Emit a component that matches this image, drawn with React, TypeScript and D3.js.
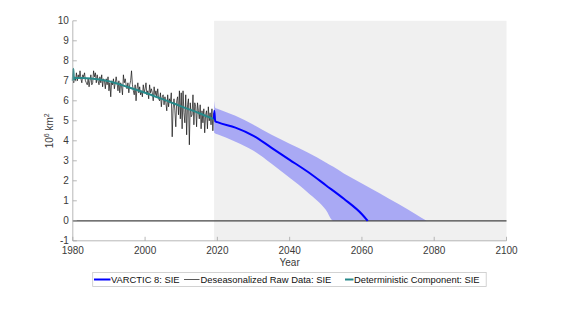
import React from 'react';
import * as d3 from 'd3';

// deseasonalized raw sea-ice extent, 4 samples/year from 1980
const rawStart = 1980;
const rawStep = 0.25;
const rawValues = [
  7.3, 6.9, 7.2, 7.0, 7.4, 7.0, 7.3, 7.1, 7.5, 7.1, 6.9, 7.3, 7.2, 7.4, 7.0, 6.9,
  6.8, 7.1, 6.7, 7.0, 7.3, 6.8, 6.9, 7.5, 7.2, 7.4, 6.9, 7.3, 7.0, 6.8, 7.2, 6.9,
  7.3, 6.7, 7.1, 7.0, 6.6, 7.1, 6.8, 7.2, 6.5, 6.9, 6.2, 7.0, 6.8, 7.1, 6.6, 6.9,
  7.2, 6.9, 6.5, 7.0, 6.4, 6.9, 6.7, 6.3, 7.3, 6.9, 7.1, 6.8, 6.6, 6.9, 6.4, 6.8,
  7.0, 7.5, 6.8, 6.5, 6.3, 6.8, 6.0, 6.6, 6.9, 6.4, 6.7, 6.3, 6.5, 6.2, 6.8, 6.4,
  6.6, 6.9, 6.3, 6.5, 6.1, 6.8, 6.4, 6.6, 6.4, 6.0, 6.7, 6.3, 6.5, 6.2, 6.6, 6.1,
  6.0, 6.4, 5.7, 6.2, 6.3, 5.8, 6.2, 5.9, 5.5, 6.3, 5.7, 6.1, 5.9, 6.4, 4.2, 5.6,
  6.1, 5.5, 4.7, 6.0, 6.2, 5.3, 6.5, 5.1, 6.4, 4.6, 6.5, 5.4, 4.9, 6.3, 4.3, 5.8,
  6.1, 3.8, 5.9, 5.2, 5.3, 6.3, 4.8, 5.9, 5.7, 4.7, 5.9, 5.5, 5.1, 5.8, 4.6, 5.5,
  4.9, 5.6, 4.4, 5.3, 5.5, 4.6, 5.7, 5.0, 5.4, 4.8, 5.6, 4.5, 5.4,
];

// deterministic component
const detYears = [1980, 1980.15, 1980.3, 1980.5, 1985, 1990, 1995, 2000, 2005, 2010, 2015, 2019];
const detValues = [7.0, 7.6, 7.05, 7.15, 7.12, 6.98, 6.7, 6.4, 6.07, 5.72, 5.38, 5.08];

// VARCTIC 8 forecast mean
const fcYears = [2019.05, 2019.15, 2019.4, 2020, 2025, 2030, 2035, 2040, 2045, 2050, 2055, 2060, 2061.6];
const fcMean = [5.1, 5.5, 4.98, 4.93, 4.66, 4.25, 3.65, 3.05, 2.45, 1.78, 1.1, 0.33, 0];

// forecast band
const bandYears = [2019.1, 2019.4, 2020, 2025, 2030, 2035, 2040, 2045, 2050, 2052.1, 2055, 2060, 2065, 2070, 2075, 2077.9];
const bandUpper = [6.0, 5.65, 5.6, 5.25, 4.8, 4.3, 3.85, 3.42, 2.92, 2.7, 2.37, 1.87, 1.37, 0.85, 0.32, 0];
const bandLower = [4.4, 4.37, 4.33, 3.95, 3.5, 2.85, 2.15, 1.42, 0.55, 0, 0, 0, 0, 0, 0, 0];

const xTicks = [1980, 2000, 2020, 2040, 2060, 2080, 2100];
const yTicks = [-1, 0, 1, 2, 3, 4, 5, 6, 7, 8, 9, 10];
const forecastStart = 2019.1;

const W = 561;
const H = 316;
const font = 'Helvetica, Arial, "Liberation Sans", sans-serif';

export default function App() {
  const x = d3.scaleLinear().domain([1980, 2100]).range([72.8, 506.5]);
  const y = d3.scaleLinear().domain([-1, 10]).range([240.8, 20.8]);

  const raw = rawValues.map((v, i) => [rawStart + i * rawStep, v] as [number, number]);
  const det = detYears.map((t, i) => [t, detValues[i]] as [number, number]);
  const fc = fcYears.map((t, i) => [t, fcMean[i]] as [number, number]);
  const band = bandYears.map((t, i) => ({ t, lo: bandLower[i], hi: bandUpper[i] }));

  const line = d3.line<[number, number]>().x((d) => x(d[0])).y((d) => y(d[1]));
  const smooth = d3.line<[number, number]>().x((d) => x(d[0])).y((d) => y(d[1])).curve(d3.curveMonotoneX);
  const area = d3
    .area<{ t: number; lo: number; hi: number }>()
    .x((d) => x(d.t))
    .y0((d) => y(d.lo))
    .y1((d) => y(d.hi))
    .curve(d3.curveMonotoneX);

  const axisColor = '#a6a6a6';
  const textColor = '#3a3a3a';

  return (
    <svg width={W} height={H} style={{ position: 'absolute', left: 0, top: 0 }} fontFamily={font}>
      <rect width={W} height={H} fill="#fff" />
      <rect x={x(forecastStart)} y={y(10)} width={x(2100) - x(forecastStart)} height={y(-1) - y(10)} fill="#f0f0f0" />
      <path d={area(band) || ''} fill="#a9a9f4" />
      <line x1={x(1980)} x2={x(2100)} y1={y(0)} y2={y(0)} stroke="#444" strokeWidth={1.2} />
      <path d={line(raw) || ''} fill="none" stroke="#111" strokeWidth={0.7} />
      <path d={smooth(det) || ''} fill="none" stroke="#27898a" strokeWidth={2} />
      <path d={smooth(fc) || ''} fill="none" stroke="#0000ff" strokeWidth={2} />

      {/* axes */}
      <line x1={x(1980)} x2={x(1980)} y1={y(10)} y2={y(-1)} stroke={axisColor} strokeWidth={0.8} />
      <line x1={x(1980)} x2={x(2100)} y1={y(-1)} y2={y(-1)} stroke={axisColor} strokeWidth={0.8} />
      {yTicks.map((t) => (
        <g key={'y' + t}>
          <line x1={x(1980)} x2={x(1980) + 4} y1={y(t)} y2={y(t)} stroke={axisColor} strokeWidth={0.8} />
          <text x={x(1980) - 4} y={y(t)} dy="0.35em" textAnchor="end" fontSize={10} fill={textColor}>
            {t}
          </text>
        </g>
      ))}
      {xTicks.map((t) => (
        <g key={'x' + t}>
          <line x1={x(t)} x2={x(t)} y1={y(-1)} y2={y(-1) - 4} stroke={axisColor} strokeWidth={0.8} />
          <text x={x(t)} y={y(-1) + 13.5} textAnchor="middle" fontSize={10} fill={textColor}>
            {t}
          </text>
        </g>
      ))}
      <text x={(x(1980) + x(2100)) / 2} y={266} textAnchor="middle" fontSize={10} fill={textColor}>
        Year
      </text>
      <text transform={`translate(53,${(y(10) + y(-1)) / 2}) rotate(-90)`} textAnchor="middle" fontSize={10} fill={textColor}>
        10<tspan dy={-4} fontSize={7}>6</tspan>
        <tspan dy={4}> km</tspan>
        <tspan dy={-4} fontSize={7}>2</tspan>
      </text>

      {/* legend */}
      <rect x={92.7} y={272.5} width={393.5} height={14} fill="#fff" stroke="#c8c8c8" strokeWidth={0.8} />
      <line x1={94} x2={110.5} y1={279.5} y2={279.5} stroke="#0000ff" strokeWidth={2} />
      <text x={111} y={279.5} dy="0.35em" fontSize={9.4} fill="#111">VARCTIC 8: SIE</text>
      <line x1={184} x2={199.5} y1={279.5} y2={279.5} stroke="#111" strokeWidth={0.7} />
      <text x={200.5} y={279.5} dy="0.35em" fontSize={9.4} fill="#111">Deseasonalized Raw Data: SIE</text>
      <line x1={345} x2={353.5} y1={279.5} y2={279.5} stroke="#27898a" strokeWidth={2} />
      <text x={354} y={279.5} dy="0.35em" fontSize={9.4} fill="#111">Deterministic Component: SIE</text>
    </svg>
  );
}
